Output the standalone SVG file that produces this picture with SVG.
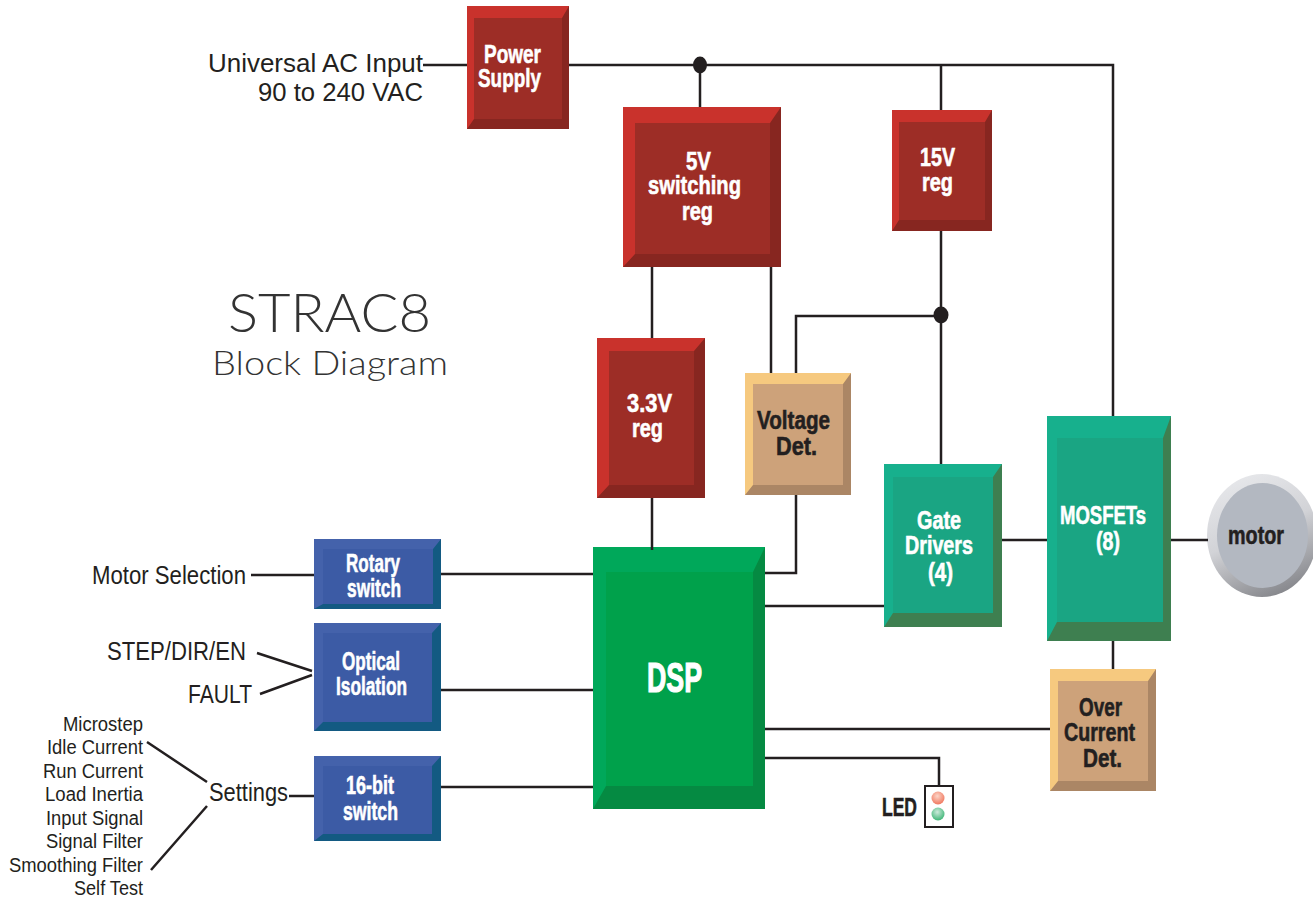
<svg xmlns="http://www.w3.org/2000/svg" width="1313" height="900" viewBox="0 0 1313 900">
<style>
text{font-family:"Liberation Sans",Arial,sans-serif;fill:#231f20}
.b{font-weight:700;font-size:26px;stroke-width:.6px}
.w{fill:#fff;stroke:#fff}
.k{fill:#231f20;stroke:#231f20}
.l{font-size:26px}
.s{font-size:20px}
.t{font-family:Lato,"Liberation Sans",sans-serif;font-weight:300;fill:#333}
.c{fill:none;stroke:#231f20;stroke-width:2.5}
.rl{fill:#c9322c}.ri{fill:#9d2d26}.rd{fill:#872620}
.yl{fill:#f6c97f}.yi{fill:#cda27a}.yd{fill:#ab8665}
.tl{fill:#17b08d}.ti{fill:#1aa583}.td{fill:#3e7f50}
.gl{fill:#00a85a}.gi{fill:#00a14b}.gd{fill:#058a42}
.ul{fill:#4462ab}.ui{fill:#3c5ba5}.ud{fill:#135a82}
</style>
<defs>
<linearGradient id="mg" x1="0.2" y1="0" x2="0.6" y2="1"><stop offset="0" stop-color="#e8e9ec"/><stop offset="0.5" stop-color="#d2d3d7"/><stop offset="1" stop-color="#87888d"/></linearGradient>
<radialGradient id="lr" cx="0.45" cy="0.35" r="0.65"><stop offset="0" stop-color="#fcd5c8"/><stop offset="1" stop-color="#f0785f"/></radialGradient>
<radialGradient id="lg" cx="0.45" cy="0.35" r="0.65"><stop offset="0" stop-color="#cdeadb"/><stop offset="1" stop-color="#3fb677"/></radialGradient>
</defs>

<g id="inputs">
<text class="l" x="208" y="72" textLength="215" lengthAdjust="spacingAndGlyphs">Universal AC Input</text>
<text class="l" x="258" y="101" textLength="165" lengthAdjust="spacingAndGlyphs">90 to 240 VAC</text>
<text class="l" x="92" y="584" textLength="154" lengthAdjust="spacingAndGlyphs">Motor Selection</text>
<text class="l" x="107" y="660" textLength="139" lengthAdjust="spacingAndGlyphs">STEP/DIR/EN</text>
<text class="l" x="188" y="703" textLength="64" lengthAdjust="spacingAndGlyphs">FAULT</text>
<text class="l" x="209" y="801" textLength="79" lengthAdjust="spacingAndGlyphs">Settings</text>
<text class="s" x="63" y="731" textLength="80" lengthAdjust="spacingAndGlyphs">Microstep</text>
<text class="s" x="47" y="754" textLength="96" lengthAdjust="spacingAndGlyphs">Idle Current</text>
<text class="s" x="43" y="778" textLength="100" lengthAdjust="spacingAndGlyphs">Run Current</text>
<text class="s" x="45" y="801" textLength="98" lengthAdjust="spacingAndGlyphs">Load Inertia</text>
<text class="s" x="46" y="825" textLength="97" lengthAdjust="spacingAndGlyphs">Input Signal</text>
<text class="s" x="46" y="848" textLength="97" lengthAdjust="spacingAndGlyphs">Signal Filter</text>
<text class="s" x="9" y="872" textLength="134" lengthAdjust="spacingAndGlyphs">Smoothing Filter</text>
<text class="s" x="74" y="895" textLength="69" lengthAdjust="spacingAndGlyphs">Self Test</text>
</g>

<g id="title">
<text class="t" x="228" y="332" font-size="53" textLength="203" lengthAdjust="spacingAndGlyphs">STRAC8</text>
<text class="t" x="212" y="375" font-size="33" textLength="236" lengthAdjust="spacingAndGlyphs">Block Diagram</text>
</g>

<g id="power-supply">
<polygon class="rl" points="467,6 569,6 569,129 467,129"/>
<polygon class="rd" points="569,6 569,129 467,129 474,119 562,119 562,18"/>
<rect class="ri" x="474" y="18" width="88" height="101"/>
<text class="b w" x="484" y="63" textLength="57" lengthAdjust="spacingAndGlyphs">Power</text>
<text class="b w" x="478" y="87" textLength="63" lengthAdjust="spacingAndGlyphs">Supply</text>
</g>
<g id="reg-5v">
<polygon class="rl" points="623,107 781,107 781,267 623,267"/>
<polygon class="rd" points="781,107 781,267 623,267 635,254 770,254 770,123"/>
<rect class="ri" x="635" y="123" width="135" height="131"/>
<text class="b w" x="686" y="170" textLength="25" lengthAdjust="spacingAndGlyphs">5V</text>
<text class="b w" x="648" y="194" textLength="93" lengthAdjust="spacingAndGlyphs">switching</text>
<text class="b w" x="682" y="220" textLength="31" lengthAdjust="spacingAndGlyphs">reg</text>
</g>
<g id="reg-15v">
<polygon class="rl" points="892,110 992,110 992,231 892,231"/>
<polygon class="rd" points="992,110 992,231 892,231 899,220 985,220 985,122"/>
<rect class="ri" x="899" y="122" width="86" height="98"/>
<text class="b w" x="920" y="166" textLength="35" lengthAdjust="spacingAndGlyphs">15V</text>
<text class="b w" x="922" y="191" textLength="31" lengthAdjust="spacingAndGlyphs">reg</text>
</g>
<g id="reg-3v3">
<polygon class="rl" points="597,338 705,338 705,498 597,498"/>
<polygon class="rd" points="705,338 705,498 597,498 609,485 694,485 694,351"/>
<rect class="ri" x="609" y="351" width="85" height="134"/>
<text class="b w" x="627" y="412" textLength="45" lengthAdjust="spacingAndGlyphs">3.3V</text>
<text class="b w" x="632" y="437" textLength="31" lengthAdjust="spacingAndGlyphs">reg</text>
</g>
<g id="voltage-det">
<polygon class="yl" points="745,373 851,373 851,495 745,495"/>
<polygon class="yd" points="851,373 851,495 745,495 753,485 843,485 843,384"/>
<rect class="yi" x="753" y="384" width="90" height="101"/>
<text class="b k" x="757" y="429" textLength="73" lengthAdjust="spacingAndGlyphs">Voltage</text>
<text class="b k" x="776" y="455" textLength="41" lengthAdjust="spacingAndGlyphs">Det.</text>
</g>
<g id="gate-drivers">
<polygon class="tl" points="884,464 1002,464 1002,627 884,627"/>
<polygon class="td" points="1002,464 1002,627 884,627 893,613 993,613 993,477"/>
<rect class="ti" x="893" y="477" width="100" height="136"/>
<text class="b w" x="917" y="529" textLength="44" lengthAdjust="spacingAndGlyphs">Gate</text>
<text class="b w" x="905" y="554" textLength="68" lengthAdjust="spacingAndGlyphs">Drivers</text>
<text class="b w" x="928" y="581" textLength="25" lengthAdjust="spacingAndGlyphs">(4)</text>
</g>
<g id="mosfets">
<polygon class="tl" points="1047,416 1171,416 1171,641 1047,641"/>
<polygon class="td" points="1171,416 1171,641 1047,641 1057,622 1163,622 1163,438"/>
<rect class="ti" x="1057" y="438" width="106" height="184"/>
<text class="b w" x="1060" y="524" textLength="86" lengthAdjust="spacingAndGlyphs">MOSFETs</text>
<text class="b w" x="1096" y="550" textLength="24" lengthAdjust="spacingAndGlyphs">(8)</text>
</g>
<g id="motor">
<ellipse cx="1262" cy="535.5" rx="55" ry="61.5" fill="url(#mg)"/>
<ellipse cx="1262.5" cy="535.5" rx="45.5" ry="52.5" fill="#b3b8c1"/>
<text class="b k" x="1228" y="544" textLength="56" lengthAdjust="spacingAndGlyphs">motor</text>
</g>
<g id="over-current-det">
<polygon class="yl" points="1050,669 1156,669 1156,791 1050,791"/>
<polygon class="yd" points="1156,669 1156,791 1050,791 1058,781 1148,781 1148,681"/>
<rect class="yi" x="1058" y="681" width="90" height="100"/>
<text class="b k" x="1079" y="716" textLength="43" lengthAdjust="spacingAndGlyphs">Over</text>
<text class="b k" x="1064" y="741" textLength="71" lengthAdjust="spacingAndGlyphs">Current</text>
<text class="b k" x="1083" y="767" textLength="39" lengthAdjust="spacingAndGlyphs">Det.</text>
</g>
<g id="dsp">
<polygon class="gl" points="593,547 765,547 765,809 593,809"/>
<polygon class="gd" points="765,547 765,809 593,809 606,786 753,786 753,572"/>
<rect class="gi" x="606" y="572" width="147" height="214"/>
<text class="b w" x="647" y="692" style="font-size:42px;stroke-width:1.2px" textLength="55" lengthAdjust="spacingAndGlyphs">DSP</text>
</g>
<g id="rotary-switch">
<polygon class="ul" points="314,539 441,539 441,609 314,609"/>
<polygon class="ud" points="441,539 441,609 314,609 323,604 433,604 433,549"/>
<rect class="ui" x="323" y="549" width="110" height="55"/>
<text class="b w" x="346" y="572" textLength="54" lengthAdjust="spacingAndGlyphs">Rotary</text>
<text class="b w" x="347" y="597" textLength="54" lengthAdjust="spacingAndGlyphs">switch</text>
</g>
<g id="optical-isolation">
<polygon class="ul" points="314,623 441,623 441,731 314,731"/>
<polygon class="ud" points="441,623 441,731 314,731 323,722 432,722 432,633"/>
<rect class="ui" x="323" y="633" width="109" height="89"/>
<text class="b w" x="342" y="670" textLength="58" lengthAdjust="spacingAndGlyphs">Optical</text>
<text class="b w" x="336" y="695" textLength="71" lengthAdjust="spacingAndGlyphs">Isolation</text>
</g>
<g id="bit-switch">
<polygon class="ul" points="314,756 441,756 441,841 314,841"/>
<polygon class="ud" points="441,756 441,841 314,841 323,834 432,834 432,766"/>
<rect class="ui" x="323" y="766" width="109" height="68"/>
<text class="b w" x="346" y="794" textLength="48" lengthAdjust="spacingAndGlyphs">16-bit</text>
<text class="b w" x="343" y="820" textLength="55" lengthAdjust="spacingAndGlyphs">switch</text>
</g>
<g id="led">
<rect x="925" y="786" width="28" height="41" fill="#fff" stroke="#231f20" stroke-width="2"/>
<circle cx="938" cy="798" r="6.5" fill="url(#lr)"/>
<circle cx="938" cy="814" r="6.5" fill="url(#lg)"/>
<text class="b k" x="882" y="816" textLength="35" lengthAdjust="spacingAndGlyphs">LED</text>
</g>

<g id="connectors">
<path class="c" d="M423 65H467M569 65H1113V416M700 65V107M941 65V110M941 231V464M796 373V316H941M652 267V338M771 267V373M652 498V550M796 495V573H765M765 606H884M1002 540H1047M1171 540H1208M1113 641V669M765 729H1050M765 758H939V786M441 574H593M441 690H593M441 787H593M251 575H314M257 653L312 671M260 694L312 675M147 742L207 782M151 870L207 806M289 796H314"/>
<ellipse cx="700" cy="65" rx="7" ry="8.5" fill="#231f20"/>
<ellipse cx="941" cy="315" rx="7.5" ry="8.5" fill="#231f20"/>
</g>
</svg>
